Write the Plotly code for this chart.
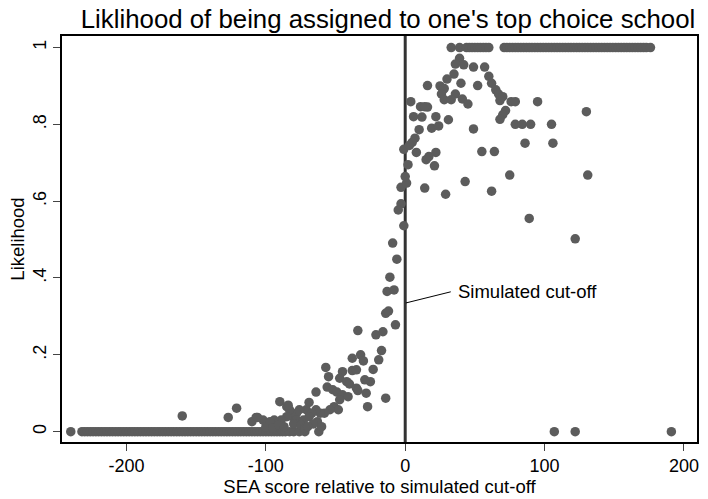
import plotly.graph_objects as go

# ---- data ----
zero_row_x = [-240, -232, -230, -228, -226, -224, -222, -220, -218, -216, -214, -212, -210,
              -208, -206, -204, -202, -200, -198, -196, -194, -192, -190, -188, -186, -184,
              -182, -180, -178, -176, -174, -172, -170, -168, -166, -164, -162, -160, -158,
              -156, -154, -152, -150, -148, -146, -144, -142, -140, -138, -136, -134, -132,
              -130, -128, -126, -124, -122, -120, -118, -116, -114, -112, -110, -108, -106,
              -104, -102, -100, -98, -96, -94, -92, -90, -88, -86, -83, -80, -76, -72, -62,
              107, 122, 191]

one_row_x = [33, 39, 44, 46, 48, 50, 52, 54, 56, 58, 60,
             71, 73, 75, 77, 79, 81, 83, 85, 87, 89, 91, 93, 95, 97, 99, 101, 103, 105, 107,
             109, 111, 113, 115, 117, 119, 121, 123, 125, 127, 129, 131, 133, 135, 137, 139,
             141, 143, 145, 147, 149, 151, 153, 155, 157, 159, 161, 163, 165, 167, 169, 171,
             173, 176]

left_x = [-3, 1, 0, 2, -1, -3, -5, -1, -9, -6, -11, -13, -8, -14, -12, -7, -34, -21, -16,
          -17, -19, -38, -32, -30, -57, -55, -45, -38, -35, -23, -25, -29, -47, -42, -40,
          -35, -34, -28, -56, -52, -49, -45, -41, -64, -27, -14, -47, -51, -48, -54, -58,
          -61, -64, -69, -71, -67, -76, -78, -81, -90, -85, -83, -78, -73, -69, -63, -60,
          -85, -89, -94, -107, -102, -97, -160, -127, -121, -110, -106, -84,
          -100, -95, -91, -87, -80, -75, -72, -66, -70]
left_y = [0.636, 0.647, 0.664, 0.695, 0.735, 0.593, 0.577, 0.536, 0.491, 0.449, 0.402,
          0.365, 0.369, 0.308, 0.314, 0.278, 0.263, 0.252, 0.260, 0.211, 0.187, 0.191,
          0.200, 0.184, 0.167, 0.143, 0.156, 0.159, 0.161, 0.162, 0.130, 0.135, 0.139,
          0.130, 0.124, 0.113, 0.107, 0.100, 0.116, 0.109, 0.103, 0.096, 0.091, 0.103,
          0.065, 0.087, 0.083, 0.065, 0.057, 0.057, 0.048, 0.048, 0.057, 0.076, 0.057,
          0.048, 0.057, 0.048, 0.039, 0.078, 0.065, 0.057, 0.030, 0.030, 0.039, 0.026,
          0.013, 0.039, 0.030, 0.030, 0.037, 0.030, 0.026, 0.041, 0.037, 0.061, 0.026,
          0.037, 0.069,
          0.013, 0.010, 0.017, 0.013, 0.020, 0.017, 0.010, 0.020, 0.013]

right_x = [39, 36, 42, 49, 57, 35, 30, 60, 16, 25, 40, 52, 62, 27, 28, 65, 26, 36, 67, 28,
           33, 41, 45, 68, 70, 4, 11, 16, 14, 76, 79, 95, 72, 70, 68, 6, 12, 22, 31, 79, 84,
           90, 105, 10, 19, 24, 49, 7, 5, 3, 8, 86, 106, 17, 22, 15, 21, 55, 64, 14, 29, 43,
           62, 75, 130, 131, 122, 89]
right_y = [0.972, 0.957, 0.955, 0.949, 0.949, 0.931, 0.918, 0.925, 0.901, 0.900, 0.907,
           0.901, 0.907, 0.890, 0.893, 0.890, 0.879, 0.879, 0.879, 0.864, 0.864, 0.866,
           0.853, 0.862, 0.872, 0.859, 0.846, 0.845, 0.846, 0.859, 0.859, 0.859, 0.836,
           0.825, 0.813, 0.820, 0.819, 0.820, 0.812, 0.800, 0.800, 0.800, 0.800, 0.786,
           0.790, 0.796, 0.788, 0.764, 0.753, 0.745, 0.727, 0.751, 0.751, 0.716, 0.727,
           0.708, 0.692, 0.729, 0.729, 0.634, 0.618, 0.651, 0.626, 0.668, 0.833, 0.668,
           0.502, 0.555]

x_ticks = [-200, -100, 0, 100, 200]
x_tick_labels = ["-200", "-100", "0", "100", "200"]
y_ticks = [0, 0.2, 0.4, 0.6, 0.8, 1]
y_tick_labels = ["0", ".2", ".4", ".6", ".8", "1"]

cutoff = 0
label_text = "Simulated cut-off"
label_pos = (36.5, 0.364)
leader_start = (0.5, 0.335)
leader_end = (32.7, 0.364)

# ---- assemble ----
xs = zero_row_x + one_row_x + left_x + right_x
ys = [0.0] * len(zero_row_x) + [1.0] * len(one_row_x) + left_y + right_y

FONT = "Liberation Sans, Arial, sans-serif"
DOT = "#5c5c5c"

fig = go.Figure()
fig.add_trace(go.Scatter(x=xs, y=ys, mode="markers",
                         marker=dict(size=9.5, color=DOT, line=dict(width=0)),
                         showlegend=False, hoverinfo="skip"))

fig.add_shape(type="line", xref="x", yref="paper", x0=cutoff, x1=cutoff, y0=0, y1=1,
              line=dict(color="#333333", width=3), layer="below")
fig.add_shape(type="line", xref="x", yref="y", x0=leader_start[0], y0=leader_start[1],
              x1=leader_end[0], y1=leader_end[1], line=dict(color="black", width=1))
fig.add_annotation(x=label_pos[0], y=label_pos[1], text=label_text, showarrow=False,
                   xanchor="left", yanchor="middle",
                   font=dict(family=FONT, size=18.5, color="black"))

fig.update_layout(
    width=708, height=499,
    margin=dict(l=62, r=9, t=36, b=57),
    paper_bgcolor="white", plot_bgcolor="white",
    title=dict(text="Liklihood of being assigned to one's top choice school",
               x=388 / 708, xanchor="center", y=1 - 19 / 499, yanchor="middle",
               font=dict(family=FONT, size=25.8, color="black")),
    font=dict(family=FONT, color="black"),
)
fig.update_xaxes(range=[-246.3, 209.4], tickvals=x_ticks, ticktext=x_tick_labels,
                 ticks="outside", ticklen=7,
                 tickwidth=1, tickcolor="#444", showgrid=False, zeroline=False,
                 showline=True, linecolor="black", linewidth=1.5, mirror=True,
                 tickfont=dict(size=18),
                 title=dict(text="SEA score relative to simulated cut-off",
                            font=dict(size=18.5), standoff=0))
fig.update_yaxes(range=[-0.027, 1.030], tickvals=y_ticks, ticktext=y_tick_labels,
                 tickangle=-90, ticks="outside", ticklen=7, tickwidth=1, tickcolor="#444",
                 showgrid=False, zeroline=False, showline=True, linecolor="black",
                 linewidth=1.5, mirror=True, tickfont=dict(size=18),
                 title=dict(text="Likelihood", font=dict(size=18.5), standoff=1))

fig.write_html("out.html")
